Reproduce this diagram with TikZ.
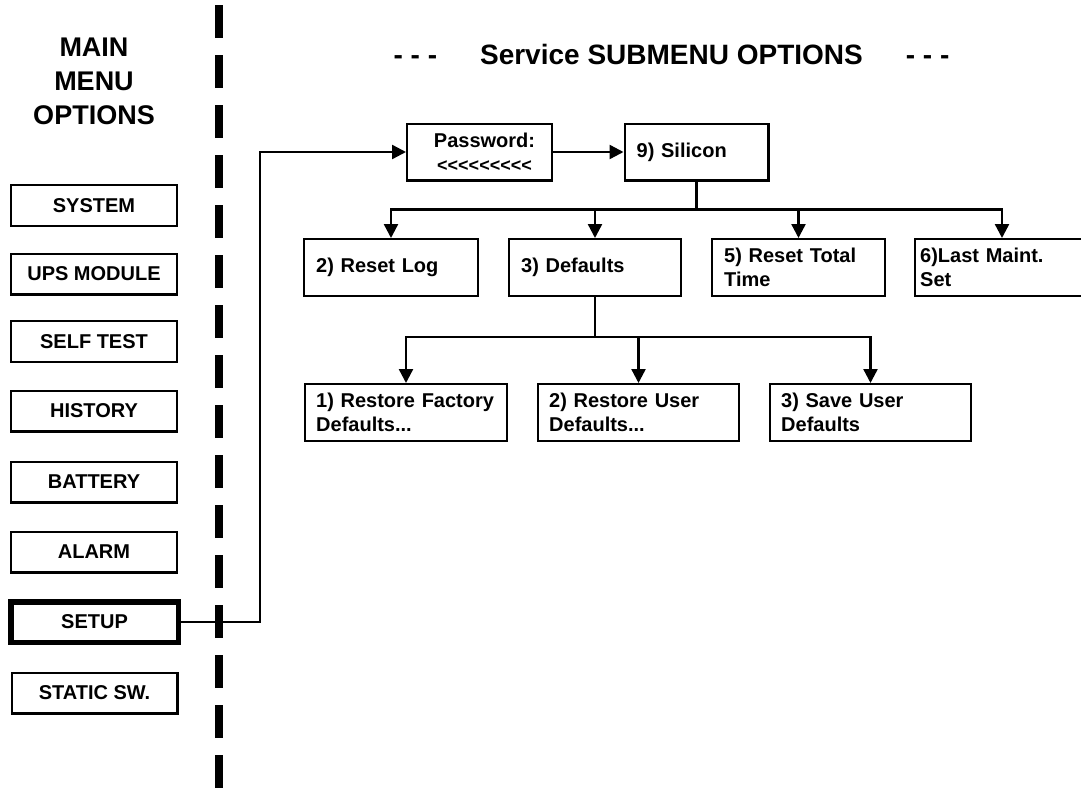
\documentclass[tikz,border=0pt]{standalone}
\usepackage{fontspec}
\setmainfont{Liberation Sans}
\newfontfamily\plainfont{Liberation Sans}
\usetikzlibrary{arrows.meta}
\begin{document}
\begin{tikzpicture}[x=1pt,y=-1pt,
  every node/.style={font=\bfseries\fontsize{20}{24.5}\selectfont},
  menubox/.style={draw, line width=2.4pt, minimum width=165.6pt, minimum height=40.6pt, inner sep=0pt, align=center},
  subbox/.style={draw, line width=2.4pt, minimum height=56.6pt, inner ysep=0pt, inner xsep=12pt, align=left},
  pwbox/.style={draw, line width=2.4pt, minimum width=144.6pt, minimum height=56.6pt, inner sep=0pt, align=center},
  arr/.style={line width=2.4pt, -{Triangle[width=14pt,length=14pt]}},
  divider/.style={line width=8pt, dash pattern=on 33pt off 17pt},
  bigtitle/.style={font=\bfseries\fontsize{27}{34}\selectfont, align=center, inner sep=0pt},
  subtitle/.style={font=\bfseries\fontsize{28}{34}\selectfont, inner sep=0pt, anchor=base}]
\path[fill=white, use as bounding box] (0,0) rectangle (1081,790);

% divider
\draw[divider] (219,5) -- (219,800);

% titles
\node[bigtitle] (maintitle) at (94,81.3) {MAIN\\MENU\\OPTIONS};
\node[subtitle] (subtitle) at (671.5,64) {- - -\hspace{43pt}Service SUBMENU OPTIONS\hspace{43pt}- - -};

% main menu
\node[menubox] (sys)   at (94,205.5) {SYSTEM};
\node[menubox] (ups)   at (94,274)   {UPS MODULE};
\node[menubox] (self)  at (94,341.5) {SELF TEST};
\node[menubox] (hist)  at (94,411)   {HISTORY};
\node[menubox] (batt)  at (94,482)   {BATTERY};
\node[menubox] (alarm) at (94,552)   {ALARM};
\node[menubox, line width=5.5pt, minimum width=167.5pt, minimum height=40.5pt] (setup) at (94.5,622) {SETUP};
\node[menubox] (static) at (94.5,693) {STATIC SW.};

% submenu
\node[pwbox] (pw) at (479.5,152) {\hspace*{10pt}Password:\\\hspace*{10pt}{\plainfont\bfseries\fontsize{18}{22}\selectfont <<<<<<<<<}};
\node[subbox, text width=119.6pt] (sil) at (696.5,152) {9) Silicon};

\node[subbox, text width=149.6pt] (rlog) at (391,267.5) {2) Reset Log};
\node[subbox, text width=147.6pt] (defs) at (595,267.5) {3) Defaults};
\node[subbox, text width=148.6pt] (rtot) at (798.5,267.5) {5) Reset Total\\Time};
\node[subbox, inner xsep=5pt, text width=163.6pt] (lmaint) at (1002,267.5) {6)Last Maint.\\Set};

\node[subbox, inner xsep=11pt, text width=179.6pt] (rf) at (406,412.5) {1) Restore Factory\\Defaults...};
\node[subbox, inner xsep=11pt, text width=178.6pt] (ru) at (638.5,412.5) {2) Restore User\\Defaults...};
\node[subbox, inner xsep=11pt, text width=178.6pt] (su) at (870.5,412.5) {3) Save User\\Defaults};

% connectors
\draw[arr] (setup.east) -- ++(79,0) |- (pw.west);
\draw[arr] (pw.east) -- (sil.west);

\draw[arr] (sil.south) -- ++(0,28) -| (rlog.north);
\draw[arr] (sil.south) -- ++(0,28) -| (defs.north);
\draw[arr] (sil.south) -- ++(0,28) -| (rtot.north);
\draw[arr] (sil.south) -- ++(0,28) -| (lmaint.north);

\draw[arr] (defs.south) -- ++(0,40) -| (rf.north);
\draw[arr] (defs.south) -- ++(0,40) -| (ru.north);
\draw[arr] (defs.south) -- ++(0,40) -| (su.north);
\end{tikzpicture}
\end{document}
